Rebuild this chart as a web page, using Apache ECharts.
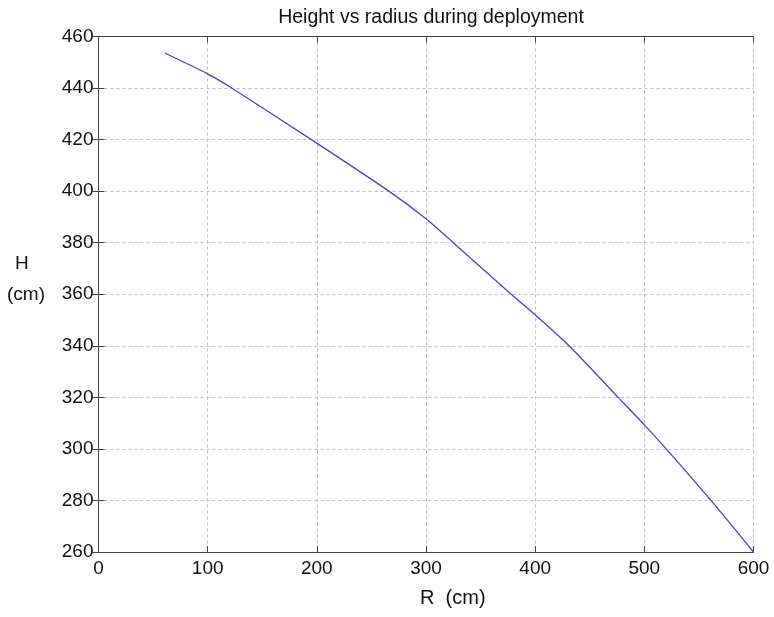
<!DOCTYPE html>
<html>
<head>
<meta charset="utf-8">
<script src="https://cdn.jsdelivr.net/npm/echarts@6/dist/echarts.min.js"></script>
<style>html,body{margin:0;padding:0;background:#fff;}#c{width:774px;height:617px;}</style>
</head>
<body>
<div id="c"></div>
<script>
const radius = [61, 100, 122, 195, 266, 300, 325, 378, 400, 431, 476, 500, 520, 561, 600];
const height = [453.5, 445.5, 440, 420, 400, 389.3, 380, 360, 352, 340, 320, 309.3, 300, 280, 260];
const xTicks = [0, 100, 200, 300, 400, 500, 600];
const yTicks = [260, 280, 300, 320, 340, 360, 380, 400, 420, 440, 460];
const titleText = 'Height vs radius during deployment';

const FONT = '"Liberation Sans", Arial, sans-serif';
const chart = echarts.init(document.getElementById('c'), null, {renderer: 'canvas'});
const gridLine = {show: true, lineStyle: {color: '#bdbdbd', type: [3, 3], width: 1}};
const axisLineS = {show: true, lineStyle: {color: '#444', width: 1}};
const tick = {show: true, inside: true, length: 6, lineStyle: {color: '#444'}};
const labelS = {color: '#111', fontSize: 19, fontFamily: FONT};
const pts = radius.map((r, i) => [r, height[i]]);
chart.setOption({
  animation: false,
  backgroundColor: '#fff',
  title: {text: titleText, left: 426, top: 3, textAlign: 'center',
    textStyle: {fontSize: 19.5, fontWeight: 'normal', color: '#111', fontFamily: FONT}},
  grid: {left: 98.5, right: 20.5, top: 36.5, bottom: 65, show: false},
  xAxis: [
    {type: 'value', min: xTicks[0], max: xTicks[xTicks.length - 1], interval: 100, position: 'bottom',
      axisLine: axisLineS, axisTick: tick, splitLine: gridLine,
      axisLabel: Object.assign({margin: 7}, labelS)},
    {type: 'value', min: xTicks[0], max: xTicks[xTicks.length - 1], interval: 100, position: 'top',
      axisLine: axisLineS, axisTick: tick, splitLine: {show: false}, axisLabel: {show: false}}
  ],
  yAxis: [
    {type: 'value', min: yTicks[0], max: yTicks[yTicks.length - 1], interval: 20, position: 'left',
      axisLine: axisLineS, axisTick: tick, splitLine: gridLine,
      axisLabel: Object.assign({margin: 5}, labelS)},
    {type: 'value', min: yTicks[0], max: yTicks[yTicks.length - 1], interval: 20, position: 'right',
      axisLine: axisLineS, axisTick: tick, splitLine: {show: false}, axisLabel: {show: false}}
  ],
  graphic: [
    {type: 'text', left: 15, top: 254, style: {text: 'H', fontSize: 19, fontFamily: FONT, fill: '#111'}},
    {type: 'text', left: 7, top: 285, style: {text: '(cm)', fontSize: 19, fontFamily: FONT, fill: '#111'}},
    {type: 'text', left: 420, top: 588, style: {text: 'R  (cm)', fontSize: 20, fontFamily: FONT, fill: '#111'}}
  ],
  series: [{
    type: 'line', data: pts, showSymbol: false, smooth: 0.25,
    lineStyle: {color: '#4444c4', width: 1.3}
  }]
});
</script>
</body>
</html>
